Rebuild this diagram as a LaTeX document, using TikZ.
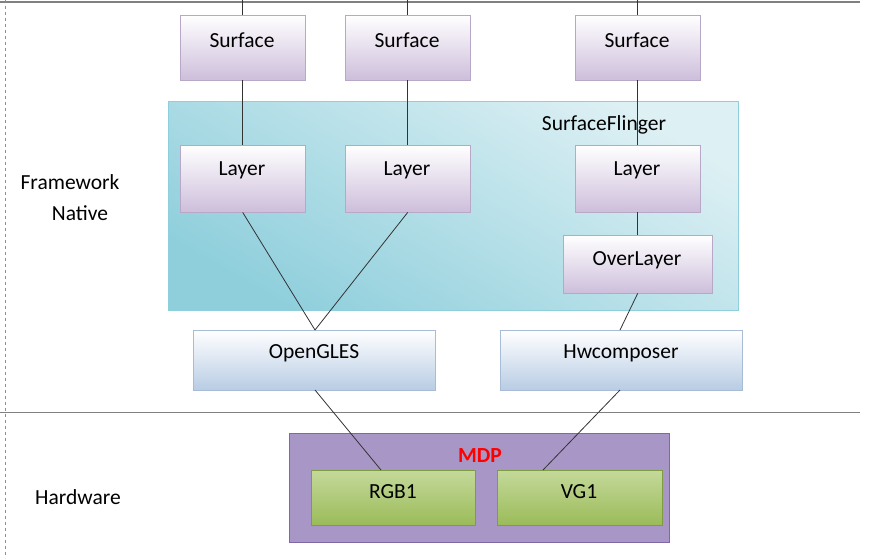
\documentclass[tikz,border=0pt]{standalone}
\usepackage{fontspec}
\setmainfont{Carlito}
\definecolor{pbot}{HTML}{CDBEDB}
\definecolor{pdraw}{HTML}{B8A8C8}
\definecolor{bbot}{HTML}{B8CCE4}
\definecolor{bdraw}{HTML}{A8BCD8}
\definecolor{gtop}{HTML}{C4D99A}
\definecolor{gbot}{HTML}{9BBB59}
\definecolor{gdraw}{HTML}{7E9C42}
\definecolor{mdpc}{HTML}{A897C6}
\definecolor{mdpd}{HTML}{7F67A8}
\definecolor{sfa}{HTML}{DDF0F4}
\definecolor{sfb}{HTML}{8FCFDC}
\begin{document}
\begin{tikzpicture}[x=1pt,y=-1pt,
  fnt/.style={font=\fontsize{21.5}{24}\selectfont},
  purp/.style={draw=pdraw,top color=white,bottom color=pbot},
  blu/.style={draw=bdraw,top color=white,bottom color=bbot},
  grn/.style={draw=gdraw,top color=gtop,bottom color=gbot},
  lnk/.style={draw=black!80,line width=0.8pt},
  lbl/.style={fnt}]
\useasboundingbox (0,0) rectangle (873,558);
\fill[white] (0,0) rectangle (873,558);
\draw[gray,line width=1.5pt] (0,2) -- (860,2);
\draw[gray,line width=1pt] (0,412) -- (860,412);
\draw[blue!50,dashed] (5,0) -- (5,558);
% SurfaceFlinger
\node[draw=sfb,inner sep=0,minimum width=570,minimum height=209,anchor=north west,
  shading=axis,top color=sfa,bottom color=sfb,shading angle=-30] (sf) at (168,101) {};
\node[lbl] (sfl) at (604,125) {SurfaceFlinger};
% MDP
\node[draw=mdpd,fill=mdpc,minimum width=380,minimum height=109,anchor=north west,inner sep=0] (mdp) at (289,433) {};
\node[text=red,font=\fontsize{21.5}{24}\selectfont\bfseries] (mdpl) at (480,456) {MDP};
\foreach \n/\x in {s1/180,s2/345,s3/575}
  \node[purp,minimum width=125,minimum height=65,anchor=north west,inner sep=0] (\n) at (\x,15) {};
\foreach \n/\x in {l1/180,l2/345,l3/575}
  \node[purp,minimum width=125,minimum height=67,anchor=north west,inner sep=0] (\n) at (\x,145) {};
\node[lbl] at (242,40) {Surface};
\node[lbl] at (407,40) {Surface};
\node[lbl] at (637,40) {Surface};
\node[lbl] at (242,170) {Layer};
\node[lbl] at (407,170) {Layer};
\node[lbl] at (637,170) {Layer};
\node[purp,minimum width=149,minimum height=58,anchor=north west,inner sep=0] (ov) at (563,235) {};
\node[lbl] at (637,260) {OverLayer};
\node[blu,minimum width=242,minimum height=60,anchor=north west,inner sep=0] (gl) at (193,330) {};
\node[lbl] at (314,353) {OpenGLES};
\node[blu,minimum width=242,minimum height=60,anchor=north west,inner sep=0] (hw) at (500,330) {};
\node[lbl] at (621,353) {Hwcomposer};
\node[grn,minimum width=164,minimum height=55,anchor=north west,inner sep=0] (rgb) at (311,470) {};
\node[lbl] at (393,492) {RGB1};
\node[grn,minimum width=165,minimum height=55,anchor=north west,inner sep=0] (vg) at (497,470) {};
\node[lbl] at (579,492) {VG1};
\coordinate (t1) at (242,0); \coordinate (t2) at (407,0); \coordinate (t3) at (637,0);
\draw[lnk] (t1) -- (s1.north -| t1);
\draw[lnk] (t2) -- (s2.north -| t2);
\draw[lnk] (t3) -- (s3.north -| t3);
\draw[lnk] (s1.south) -- (l1.north);
\draw[lnk] (s2.south) -- (l2.north);
\draw[lnk] (s3.south) -- (l3.north);
\draw[lnk] (l3.south) -- (ov.north);
\draw[lnk] (l1.south) -- (315,330);
\draw[lnk] (l2.south) -- (315,330);
\draw[lnk] (ov.south) -- (620,330);
\draw[lnk] (315,390) -- (381,470);
\draw[lnk] (620,390) -- (543,470);
\node[lbl] at (70,182) {Framework};
\node[lbl] at (80,213) {Native};
\node[lbl] at (78,497) {Hardware};
\end{tikzpicture}
\end{document}
